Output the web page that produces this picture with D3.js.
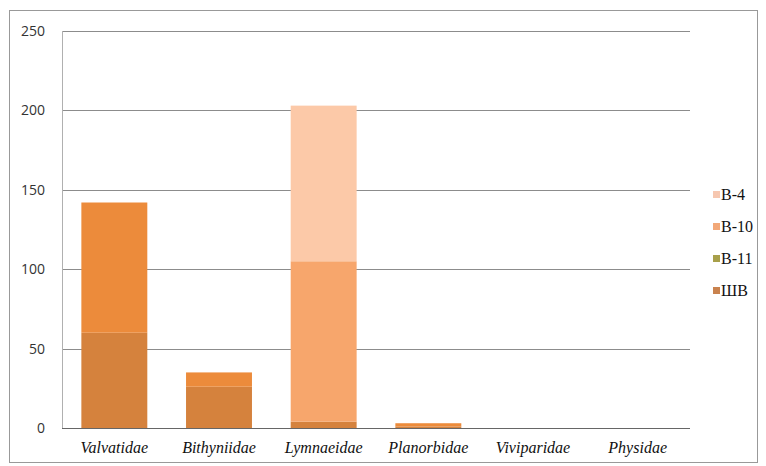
<!DOCTYPE html>
<html><head><meta charset="utf-8">
<script src="https://cdn.jsdelivr.net/npm/d3@7"></script>
<style>body{margin:0;background:#fff}</style>
</head><body>
<svg id="c" width="766" height="466"></svg>
<script>
const categories = ["Valvatidae","Bithyniidae","Lymnaeidae","Planorbidae","Viviparidae","Physidae"];
const seriesNames = ["ШВ","В-11","В-10","В-4"];
const valuesShV  = [60, 26, 4, 1, 0, 0];
const valuesB11  = [82, 9, 0, 2, 0, 0];
const valuesB10  = [0, 0, 101, 0, 0, 0];
const valuesB4   = [0, 0, 98, 0, 0, 0];
const yTicks = [0, 50, 100, 150, 200, 250];
const legendOrder = ["В-4","В-10","В-11","ШВ"];
const colors = {"ШВ":"#d5823d","В-11":"#ec8b3b","В-10":"#f7a66c","В-4":"#fcc9a8"};
const legendColors = {"ШВ":"#c9824e","В-11":"#a8a04a","В-10":"#f2a878","В-4":"#f6c7b0"};

const svg = d3.select("#c");
svg.append("rect").attr("x",9.5).attr("y",10.5).attr("width",748).attr("height",452)
  .attr("fill","#fff").attr("stroke","#999");

const L=62, R=690, T=31, B=428;
const x = d3.scaleBand().domain(categories).range([L,R]).paddingInner(0.37).paddingOuter(0.185);
const y = d3.scaleLinear().domain([0,250]).range([B,T]);

svg.append("g").selectAll("line").data(yTicks.filter(t=>t>0)).join("line")
  .attr("x1",L).attr("x2",R).attr("y1",d=>Math.round(y(d))+0.5).attr("y2",d=>Math.round(y(d))+0.5)
  .attr("stroke","#8c8c8c").attr("stroke-width",1);
svg.append("line").attr("x1",L+0.5).attr("x2",L+0.5).attr("y1",T).attr("y2",B).attr("stroke","#b0b0b0");

const table = categories.map((c,i)=>({cat:c,"ШВ":valuesShV[i],"В-11":valuesB11[i],"В-10":valuesB10[i],"В-4":valuesB4[i]}));
const stack = d3.stack().keys(seriesNames)(table);
svg.append("g").selectAll("g").data(stack).join("g").attr("fill",d=>colors[d.key])
  .selectAll("rect").data(d=>d).join("rect")
  .attr("x",d=>x(d.data.cat)).attr("width",x.bandwidth())
  .attr("y",d=>y(d[1])).attr("height",d=>Math.max(0,y(d[0])-y(d[1])));

svg.append("line").attr("x1",L).attr("x2",R).attr("y1",B+0.5).attr("y2",B+0.5).attr("stroke","#666");

const ya = svg.append("g").attr("transform",`translate(${L},0)`)
  .call(d3.axisLeft(y).tickValues(yTicks).tickSize(0).tickPadding(17));
ya.select(".domain").remove();
ya.selectAll("text").attr("font-family","'Open Sans', 'DejaVu Sans', sans-serif").attr("font-size",14).attr("fill","#333");

const xa = svg.append("g").attr("transform",`translate(0,${B})`)
  .call(d3.axisBottom(x).tickSize(0).tickPadding(14));
xa.select(".domain").remove();
xa.selectAll("text").attr("font-family","'Liberation Serif', 'Times New Roman', serif")
  .attr("font-style","italic").attr("font-size",16).attr("fill","#111");

const lg = svg.append("g").selectAll("g").data(legendOrder).join("g")
  .attr("transform",(d,i)=>`translate(713,${195+i*32})`);
lg.append("rect").attr("x",0).attr("y",-4).attr("width",7).attr("height",7).attr("fill",d=>legendColors[d]);
lg.append("text").attr("x",8).attr("y",5).text(d=>d)
  .attr("font-family","'Liberation Serif', 'Times New Roman', serif").attr("font-size",16).attr("fill","#111");
</script>
</body></html>
